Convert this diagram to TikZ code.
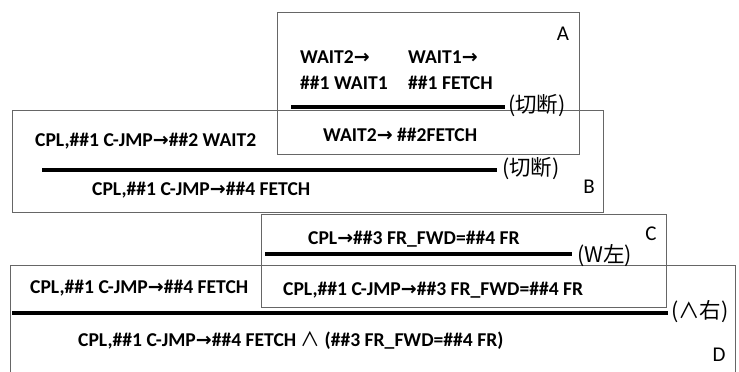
\documentclass[tikz,border=0pt]{standalone}
\usepackage{fontspec}
\setmainfont{Carlito}
\newfontfamily\cjk{Noto Sans CJK SC}
\newfontfamily\arrfont{DejaVu Sans}
\newcommand{\ar}{{\arrfont\bfseries\fontsize{19}{19}\selectfont →}}
\begin{document}
\begin{tikzpicture}[x=1pt,y=-1pt,
  box/.style={draw=black!60,line width=1pt},
  bar/.style={line width=3.4pt,black},
  txt/.style={anchor=west,inner sep=0pt,font=\fontsize{19.6}{19.6}\selectfont\bfseries},
  cj/.style={anchor=west,inner sep=0pt,font=\cjk\fontsize{21.5}{21.5}\selectfont},
  lbl/.style={anchor=center,inner sep=0pt,font=\fontsize{21}{21}\selectfont}]
\useasboundingbox (0,0) rectangle (739,372);
\fill[white] (0,0) rectangle (739,372);
\begin{scope}
\clip (0,0) rectangle (739,372);
% Box D
\draw[box] (10,380) -- (10,265) -- (735,265) -- (735,380);
\end{scope}
% Box C
\draw[box] (261,214) rectangle (666,307);
% Box B
\draw[box] (12,110) rectangle (603,212);
% Box A
\draw[box] (277,12) rectangle (579,154);

% A contents
\node[txt] (a1) at (300,57) {WAIT2\ar};
\node[txt] (a2) at (300,83) {\#\#1 WAIT1};
\node[txt] (a3) at (408,57) {WAIT1\ar};
\node[txt] (a4) at (408,83) {\#\#1 FETCH};
\draw[bar] (291,107) -- (505,107);
\node[cj] (a5) at (508,106) {(切断)};
\node[txt] (a6) at (323,135) {WAIT2\ar{} \#\#2FETCH};
\node[lbl] (la) at (563,34) {A};

% B contents
\node[txt] (b1) at (35,141) {CPL,\#\#1 C-JMP\ar\#\#2 WAIT2};
\draw[bar] (42,170) -- (497,170);
\node[cj] (b2) at (502,169) {(切断)};
\node[txt] (b3) at (92,190) {CPL,\#\#1 C-JMP\ar\#\#4 FETCH};
\node[lbl] (lb) at (589,187) {B};

% C contents
\node[txt] (c1) at (308,239) {CPL\ar\#\#3 FR\_FWD=\#\#4 FR};
\draw[bar] (265,254) -- (572,254);
\node[cj] (c2) at (577,256) {(W左)};
\node[txt] (c3) at (283,290) {CPL,\#\#1 C-JMP\ar\#\#3 FR\_FWD=\#\#4 FR};
\node[lbl] (lc) at (651,234) {C};

% D contents
\node[txt] (d1) at (30,288) {CPL,\#\#1 C-JMP\ar\#\#4 FETCH};
\draw[bar] (12,313) -- (668,313);
\node[cj] (d2) at (671,312) {(∧右)};
\node[txt] (d3) at (78,340) {CPL,\#\#1 C-JMP\ar\#\#4 FETCH {\cjk\mdseries ∧} (\#\#3 FR\_FWD=\#\#4 FR)};
\node[lbl] (ld) at (719,355) {D};
\end{tikzpicture}
\end{document}
